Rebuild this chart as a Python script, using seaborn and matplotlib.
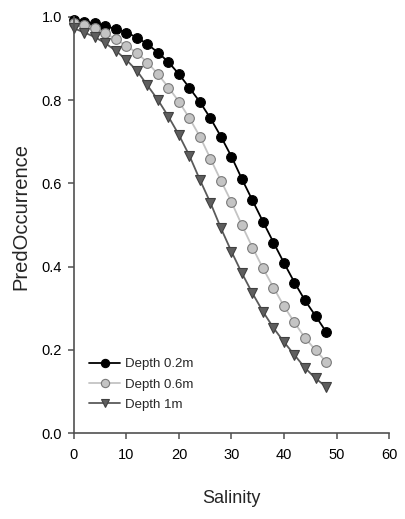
import matplotlib
matplotlib.use("Agg")
import matplotlib.pyplot as plt
import seaborn as sns
import pandas as pd

salinity = [0, 2, 4, 6, 8, 10, 12, 14, 16, 18, 20, 22, 24, 26, 28, 30, 32, 34, 36, 38, 40, 42, 44, 46, 48]
depth_02 = [0.992, 0.988, 0.984, 0.978, 0.970, 0.962, 0.950, 0.934, 0.914, 0.891, 0.862, 0.829, 0.795, 0.756, 0.712, 0.664,
            0.610, 0.559, 0.508, 0.458, 0.409, 0.362, 0.319, 0.282, 0.244]
depth_06 = [0.986, 0.980, 0.972, 0.960, 0.946, 0.930, 0.913, 0.890, 0.862, 0.830, 0.796, 0.756, 0.712, 0.659, 0.606, 0.555,
            0.499, 0.446, 0.396, 0.350, 0.305, 0.266, 0.229, 0.200, 0.172]
depth_1 = [0.972, 0.962, 0.951, 0.936, 0.918, 0.896, 0.870, 0.835, 0.800, 0.760, 0.716, 0.666, 0.608, 0.553, 0.492, 0.436,
           0.384, 0.336, 0.292, 0.253, 0.219, 0.188, 0.157, 0.132, 0.112]
labels = ["Depth 0.2m", "Depth 0.6m", "Depth 1m"]
x_ticks = [0, 10, 20, 30, 40, 50, 60]
y_ticks = [0.0, 0.2, 0.4, 0.6, 0.8, 1.0]

sns.set_style("white")
plt.rcParams['font.family'] = ['Liberation Sans', 'DejaVu Sans']

fig = plt.figure(figsize=(4.05, 5.19), dpi=100)
ax = fig.add_axes([0.1827, 0.1651, 0.7778, 0.8027])

styles = [
    dict(marker="o", mfc="black", mec="black", lc="black"),
    dict(marker="o", mfc="#c4c4c4", mec="#7a7a7a", lc="#c4c4c4"),
    dict(marker="v", mfc="#5e5e5e", mec="#404040", lc="#5a5a5a"),
]
series = [depth_02, depth_06, depth_1]

for vals, lab, st in zip(series, labels, styles):
    df = pd.DataFrame({"Salinity": salinity, "PredOccurrence": vals})
    sns.lineplot(data=df, x="Salinity", y="PredOccurrence", ax=ax, color=st["lc"], lw=1.3,
                 marker=st["marker"], markersize=7, markerfacecolor=st["mfc"],
                 markeredgecolor=st["mec"], markeredgewidth=0.8, label=lab, clip_on=False)

ax.set_xlim(0, 60)
ax.set_ylim(0, 1.0)
ax.set_xticks(x_ticks)
ax.set_yticks(y_ticks)
ax.set_yticklabels([f"{v:.1f}" for v in y_ticks])
ax.set_xticklabels([str(v) for v in x_ticks])

for s in ["top", "right"]:
    ax.spines[s].set_visible(False)
for s in ["left", "bottom"]:
    ax.spines[s].set_color("#505050")
    ax.spines[s].set_linewidth(1.2)

ax.tick_params(axis="both", which="major", direction="out", length=4.5, width=1.1, color="#505050",
               labelsize=10.5, labelcolor="black")
ax.tick_params(axis="y", pad=4)
ax.tick_params(axis="x", pad=6)
ax.tick_params(left=True, bottom=True)

ax.set_xlabel("Salinity", fontsize=13)
ax.set_ylabel("PredOccurrence", fontsize=14.5)
ax.xaxis.set_label_coords(0.5, -0.135)
ax.yaxis.set_label_coords(-0.14, 0.52)

leg = ax.legend(loc="upper left", bbox_to_anchor=(0.048, 0.181), frameon=False, fontsize=9.5,
                handlelength=2.35, handletextpad=0.4, labelspacing=0.62, borderpad=0, borderaxespad=0,
                markerscale=0.85)

fig.savefig("out.png", dpi=100)
